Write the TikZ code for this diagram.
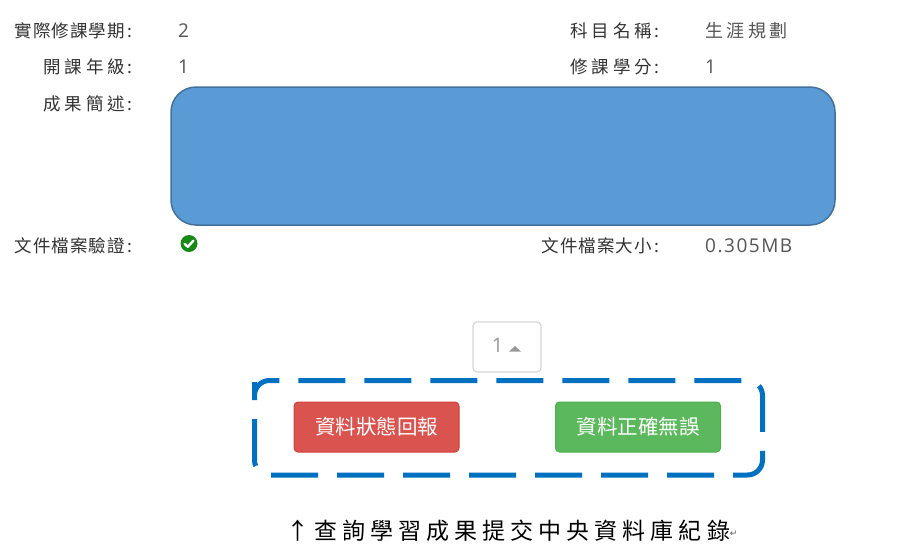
\documentclass[tikz,border=0pt]{standalone}
\usepackage{fontspec}
\setmainfont{Noto Sans CJK TC}
\newfontfamily\numfont{Open Sans}
\newfontfamily\symfont{DejaVu Sans}
\definecolor{labelgray}{HTML}{333333}
\definecolor{valgray}{HTML}{555555}
\definecolor{boxblue}{HTML}{5B9BD5}
\definecolor{boxedge}{HTML}{41719C}
\definecolor{dashblue}{HTML}{0070C0}
\definecolor{btnred}{HTML}{D9534F}
\definecolor{btnredb}{HTML}{D43F3A}
\definecolor{btngreen}{HTML}{5CB85C}
\definecolor{btngreenb}{HTML}{4CAE4C}
\definecolor{pagegray}{HTML}{D5D5D5}
\definecolor{pagetext}{HTML}{999999}
\definecolor{checkgreen}{HTML}{168A16}
\newcommand{\wsp}[1]{{\addfontfeature{LetterSpace=22}#1}}
\newcommand{\nsp}[1]{{\addfontfeature{LetterSpace=6}#1}}
\begin{document}
\begin{tikzpicture}[x=1pt,y=-1pt,
  lbl/.style={anchor=east, inner sep=0pt, text=labelgray,
    font=\fontsize{17.5}{20}\selectfont},
  val/.style={anchor=west, inner sep=0pt, text=valgray,
    font=\fontsize{18}{20}\selectfont\addfontfeature{LetterSpace=20}},
  num/.style={anchor=west, inner sep=0pt, text=valgray,
    font=\fontsize{19}{22}\numfont\addfontfeature{LetterSpace=8}},
  btn/.style={rounded corners=4pt, minimum width=165pt, minimum height=50pt,
    inner sep=0pt, text=white, line width=1pt,
    font=\fontsize{20.5}{24}\selectfont},
  caption/.style={anchor=west, inner sep=0pt, text=black,
    font=\fontsize{23}{26}\selectfont}]
\useasboundingbox (0,0) rectangle (900,555);

% left column
\node[lbl] (l1) at (133,30.5) {\nsp{實際修課學期}\,:};
\node[num] (v1) at (178,30.5) {2};
\node[lbl] (l2) at (133,66.5) {\wsp{開課年級}\,:};
\node[num] (v2) at (178,66.5) {1};
\node[lbl] (l3) at (133,104) {\wsp{成果簡述}\,:};
\node[lbl] (l4) at (133,246) {\nsp{文件檔案驗證}\,:};

% right column
\node[lbl] (r1) at (660,30.5) {\wsp{科目名稱}\,:};
\node[val] (rv1) at (705,30.5) {生涯規劃};
\node[lbl] (r2) at (660,67) {\wsp{修課學分}\,:};
\node[num] (rv2) at (705,67) {1};
\node[lbl] (r3) at (660,246) {\nsp{文件檔案大小}\,:};
\node[num] (rv3) at (705,246) {0.305MB};

% blue box
\draw[fill=boxblue, draw=boxedge, line width=1.5pt, rounded corners=25pt]
  (171,87) rectangle (835,225);

% check icon
\fill[checkgreen] (189,243.5) circle (8.5);
\draw[white, line width=2.4pt, line cap=round, line join=round]
  (184.6,243.8) -- (187.8,246.8) -- (193.4,240.6);

% pagination
\node[draw=pagegray, line width=1.2pt, rounded corners=4pt,
  minimum width=68pt, minimum height=50pt, inner sep=0pt] (page) at (507,347) {};
\node[anchor=center, inner sep=0pt, text=pagetext,
  font=\fontsize{20}{22}\numfont] (pnum) at (497.5,345.5) {1};
\fill[pagetext] (509,351.5) -- (521,351.5) -- (515,346) -- cycle;

% dashed frame
\draw[dashblue, line width=5pt, dash pattern=on 47pt off 19pt, rounded corners=15pt]
  (254.5,397) -- (254.5,380.5) -- (762.5,380.5) -- (762.5,475) -- (254.5,475) -- cycle;

% buttons
\node[btn, fill=btnred, draw=btnredb] (report) at (376.5,427) {資料狀態回報};
\node[btn, fill=btngreen, draw=btngreenb] (ok) at (638,427) {資料正確無誤};

% caption
\node[caption] (cap) at (286,531)
  {↑\hspace{5pt}\addfontfeature{LetterSpace=22}查詢學習成果提交中央資料庫紀錄};
\node[anchor=west, inner sep=0pt, text=valgray,
  font=\fontsize{9}{10}\symfont] (pil) at ([xshift=-0.5pt,yshift=-3pt]cap.east) {↵};
\end{tikzpicture}
\end{document}
